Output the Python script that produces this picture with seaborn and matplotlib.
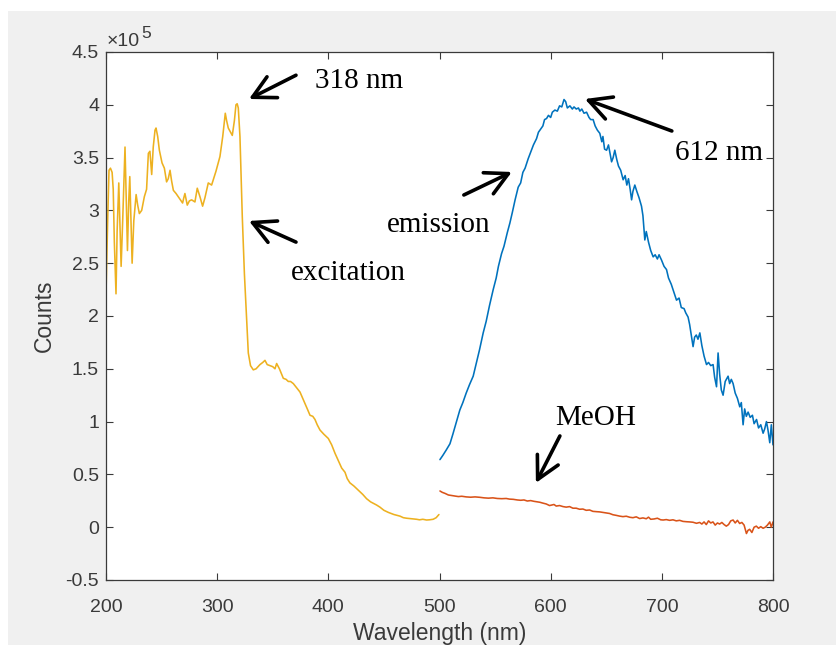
import matplotlib
matplotlib.use("Agg")
import matplotlib.pyplot as plt
from matplotlib.patches import Rectangle
from matplotlib.ticker import FuncFormatter, MultipleLocator
from matplotlib.transforms import offset_copy
import numpy as np
import pandas as pd
import seaborn as sns

# Excitation spectrum (wavelength in nm, counts in units of 1e5)
exc_wl = [200.0, 201.5, 202.7, 204.0, 205.5, 206.5, 207.5, 209.0, 210.0, 211.5,
          212.5, 213.6, 215.0, 217.1, 218.2, 219.3, 220.5, 221.4, 222.5, 223.5,
          225.0, 227.1, 228.5, 230.0, 232.1, 234.5, 236.5, 238.1, 239.5, 241.1,
          242.5, 244.1, 245.0, 246.5, 248.0, 250.4, 252.5, 254.5, 256.0, 257.6,
          259.0, 260.6, 263.0, 265.0, 267.0, 268.9, 270.0, 271.0, 273.1, 275.0,
          277.0, 280.0, 282.1, 284.5, 286.9, 289.0, 292.0, 295.0, 298.9, 302.5,
          305.0, 307.3, 308.5, 310.0, 313.6, 315.5, 316.9, 318.0, 319.0, 320.5,
          322.6, 324.5, 326.5, 328.0, 330.0, 332.5, 335.0, 338.5, 341.0, 343.0,
          345.0, 347.5, 350.0, 352.0, 353.5, 356.0, 359.5, 362.0, 364.0, 366.0,
          368.5, 371.5, 374.5, 377.0, 379.0, 381.5, 383.5, 386.0, 388.0, 390.0,
          392.5, 396.0, 400.0, 403.0, 406.0, 409.0, 412.0, 415.0, 417.0, 419.4,
          423.0, 427.0, 431.0, 434.4, 438.0, 443.4, 446.4, 450.0, 454.0, 459.0,
          464.4, 467.5, 470.4, 475.0, 479.4, 482.0, 485.0, 488.4, 491.0, 494.3,
          497.0, 499.5]
exc_val = [2.21, 2.90, 3.38, 3.40, 3.36, 3.20, 2.70, 2.21, 2.80, 3.26,
           2.90, 2.47, 2.90, 3.60, 3.10, 2.62, 3.10, 3.32, 2.90, 2.50,
           2.90, 3.15, 3.05, 2.97, 3.00, 3.13, 3.20, 3.54, 3.56, 3.34,
           3.60, 3.76, 3.78, 3.70, 3.57, 3.45, 3.40, 3.27, 3.30, 3.38,
           3.28, 3.19, 3.16, 3.13, 3.10, 3.07, 3.12, 3.16, 3.05, 3.09,
           3.10, 3.08, 3.21, 3.13, 3.04, 3.12, 3.26, 3.24, 3.37, 3.51,
           3.70, 3.92, 3.85, 3.78, 3.71, 3.85, 4.00, 4.01, 3.97, 3.70,
           2.94, 2.40, 1.96, 1.65, 1.53, 1.49, 1.50, 1.54, 1.56, 1.58,
           1.54, 1.53, 1.52, 1.50, 1.55, 1.50, 1.41, 1.40, 1.38, 1.38,
           1.36, 1.32, 1.28, 1.22, 1.17, 1.11, 1.06, 1.05, 1.02, 0.97,
           0.92, 0.88, 0.84, 0.78, 0.70, 0.63, 0.56, 0.52, 0.46, 0.42,
           0.39, 0.35, 0.31, 0.27, 0.24, 0.21, 0.19, 0.16, 0.14, 0.12,
           0.105, 0.09, 0.085, 0.08, 0.075, 0.07, 0.075, 0.068, 0.07, 0.075,
           0.09, 0.12]

# Emission spectrum
emi_wl = [500.4, 503.0, 506.0, 509.4, 512.0, 515.0, 518.3, 521.0, 524.0, 527.0,
          530.3, 533.0, 536.0, 539.3, 542.0, 545.0, 548.3, 551.0, 553.0, 555.8,
          558.0, 561.0, 563.3, 565.5, 568.0, 570.8, 573.0, 575.0, 577.0, 579.8,
          582.0, 584.5, 587.3, 589.0, 591.0, 593.0, 594.5, 596.3, 598.0, 600.0,
          601.5, 603.8, 606.0, 608.0, 610.0, 612.0, 613.5, 615.0, 617.3, 619.5,
          621.0, 623.0, 625.0, 626.3, 628.0, 630.0, 632.3, 634.5, 636.0, 638.2,
          640.0, 642.0, 644.2, 646.0, 647.0, 648.5, 650.3, 652.0, 654.8, 656.2,
          657.7, 659.5, 661.0, 663.0, 665.2, 667.0, 668.5, 670.0, 671.5, 672.8,
          674.0, 675.7, 677.5, 679.5, 681.7, 683.0, 684.7, 686.0, 688.0, 690.0,
          692.2, 694.0, 696.0, 697.5, 699.7, 702.0, 704.2, 706.0, 708.5, 711.0,
          713.2, 715.5, 717.5, 720.0, 721.5, 723.6, 725.0, 726.5, 728.1, 729.5,
          731.0, 732.5, 734.2, 736.0, 738.0, 740.2, 742.0, 744.0, 746.1, 747.5,
          749.2, 750.6, 752.0, 753.5, 755.1, 757.0, 759.6, 761.0, 762.5, 764.1,
          766.0, 768.0, 770.1, 771.5, 773.1, 774.5, 776.0, 777.6, 779.5, 781.5,
          783.0, 785.2, 787.0, 789.0, 791.1, 792.5, 794.1, 795.5, 797.1, 798.5,
          800.0]
emi_val = [0.64, 0.68, 0.73, 0.79, 0.88, 0.99, 1.11, 1.18, 1.27, 1.35,
           1.43, 1.55, 1.68, 1.84, 1.95, 2.10, 2.25, 2.36, 2.47, 2.59,
           2.66, 2.79, 2.88, 2.98, 3.10, 3.22, 3.26, 3.36, 3.40, 3.49,
           3.55, 3.62, 3.68, 3.74, 3.77, 3.80, 3.86, 3.87, 3.90, 3.88,
           3.93, 3.95, 3.94, 3.99, 3.98, 4.05, 4.03, 3.97, 3.99, 3.96,
           3.98, 3.96, 3.97, 3.94, 3.96, 3.92, 3.93, 3.88, 3.86, 3.86,
           3.80, 3.76, 3.73, 3.65, 3.70, 3.58, 3.57, 3.62, 3.46, 3.50,
           3.57, 3.48, 3.42, 3.38, 3.29, 3.33, 3.24, 3.30, 3.20, 3.10,
           3.18, 3.24, 3.18, 3.12, 3.04, 2.95, 2.72, 2.80, 2.70, 2.62,
           2.56, 2.58, 2.54, 2.58, 2.53, 2.47, 2.44, 2.36, 2.30, 2.22,
           2.15, 2.17, 2.08, 2.07, 2.03, 1.99, 1.92, 1.82, 1.71, 1.80,
           1.82, 1.78, 1.84, 1.72, 1.62, 1.54, 1.56, 1.53, 1.54, 1.42,
           1.33, 1.65, 1.45, 1.30, 1.25, 1.38, 1.43, 1.36, 1.40, 1.36,
           1.27, 1.22, 1.14, 1.18, 0.97, 1.12, 1.05, 1.09, 1.04, 1.06,
           0.98, 1.02, 0.94, 0.97, 0.89, 0.93, 1.00, 0.92, 0.80, 0.97,
           0.78]

# Methanol blank
meoh_wl = [500.4, 502.5, 505.0, 508.0, 511.0, 513.9, 517.0, 520.0, 524.0, 528.0,
           532.0, 536.3, 540.0, 544.0, 548.0, 552.0, 556.0, 560.0, 563.0, 566.3,
           570.0, 573.0, 576.0, 579.0, 582.0, 585.0, 588.0, 590.3, 593.0, 596.0,
           599.0, 601.0, 603.0, 605.0, 608.0, 611.2, 614.0, 617.0, 620.0, 623.0,
           626.0, 629.0, 632.0, 635.0, 638.0, 641.3, 644.0, 647.0, 650.0, 653.0,
           656.0, 659.0, 662.0, 665.0, 668.0, 671.2, 674.0, 677.0, 680.0, 683.0,
           686.0, 688.0, 690.0, 693.0, 696.0, 699.0, 701.2, 704.0, 707.0, 710.0,
           713.0, 716.0, 719.0, 722.0, 725.0, 728.0, 731.2, 734.0, 736.0, 738.0,
           740.0, 742.0, 744.0, 746.0, 748.0, 750.0, 752.0, 754.0, 756.0, 758.0,
           760.0, 762.0, 764.1, 766.0, 768.0, 770.0, 772.0, 774.0, 776.1, 777.5,
           779.0, 781.0, 783.0, 785.0, 787.0, 789.0, 791.1, 793.0, 795.0, 797.1,
           798.5, 800.0]
meoh_val = [0.343, 0.33, 0.32, 0.305, 0.30, 0.295, 0.29, 0.293, 0.287, 0.284,
            0.287, 0.283, 0.278, 0.275, 0.278, 0.272, 0.27, 0.272, 0.266, 0.264,
            0.258, 0.255, 0.258, 0.248, 0.252, 0.245, 0.24, 0.236, 0.228, 0.22,
            0.205, 0.21, 0.215, 0.20, 0.205, 0.195, 0.19, 0.195, 0.18, 0.18,
            0.17, 0.172, 0.16, 0.163, 0.15, 0.147, 0.145, 0.14, 0.135, 0.13,
            0.118, 0.112, 0.105, 0.10, 0.104, 0.094, 0.09, 0.098, 0.082, 0.088,
            0.08, 0.095, 0.075, 0.078, 0.085, 0.07, 0.068, 0.072, 0.065, 0.07,
            0.06, 0.065, 0.055, 0.052, 0.05, 0.047, 0.037, 0.045, 0.03, 0.05,
            0.025, 0.06, 0.04, 0.05, 0.02, 0.04, 0.03, 0.045, 0.025, 0.01,
            0.025, 0.06, 0.068, 0.04, 0.065, 0.035, 0.045, 0.02, -0.06, -0.03,
            -0.02, -0.05, 0.0, 0.01, -0.01, 0.005, -0.01, 0.0, 0.02, 0.05,
            0.0, 0.05]

x_ticks = [200, 300, 400, 500, 600, 700, 800]

series_colors = {"excitation": "#EDB120", "emission": "#0072BD", "MeOH": "#D95319"}

df = pd.concat([
    pd.DataFrame({"wavelength": exc_wl, "counts": exc_val, "series": "excitation"}),
    pd.DataFrame({"wavelength": emi_wl, "counts": emi_val, "series": "emission"}),
    pd.DataFrame({"wavelength": meoh_wl, "counts": meoh_val, "series": "MeOH"}),
], ignore_index=True)

sns.set_theme(style="ticks")
plt.rcParams["font.family"] = ["Liberation Sans", "DejaVu Sans"]
plt.rcParams["axes.unicode_minus"] = False

fig = plt.figure(figsize=(8.36, 6.46), dpi=100, facecolor="white")
fig.patches.append(Rectangle((8 / 836, 1 / 646), 828 / 836, 634 / 646,
                             transform=fig.transFigure, facecolor="#f0f0f0",
                             edgecolor="none", zorder=-10))
ax = fig.add_axes([106 / 836, 1 - 580 / 646, 667 / 836, 528 / 646])
ax.set_facecolor("white")

sns.lineplot(data=df, x="wavelength", y="counts", hue="series",
             palette=series_colors, estimator=None, sort=False,
             linewidth=1.15, legend=False, ax=ax)

ax.set_xlim(200, 800)
ax.set_ylim(-0.5, 4.5)
ax.set_xticks(x_ticks)
ax.yaxis.set_major_locator(MultipleLocator(0.5))
ax.yaxis.set_major_formatter(FuncFormatter(lambda v, p: f"{v:g}"))

axis_col = "#3a3a3a"
for sp in ax.spines.values():
    sp.set_color(axis_col)
    sp.set_linewidth(0.9)
    sp.set_visible(True)
ax.tick_params(direction="in", length=5, width=0.8, top=True, right=True,
               labelsize=14, color=axis_col, labelcolor=axis_col)
ax.tick_params(axis="x", pad=14)
ax.tick_params(axis="y", pad=5)

ax.set_xlabel("Wavelength (nm)", fontsize=16.5, color=axis_col, labelpad=4)
ax.set_ylabel("Counts", fontsize=16.5, color=axis_col, labelpad=7)

# Exponent marker for the y axis: "×10" with a raised "5"
ax.text(0.0, 1.0, "\u00d710", transform=offset_copy(ax.transAxes, fig=fig, x=1, y=6, units="dots"),
        fontsize=14, color=axis_col, ha="left", va="baseline")
ax.text(0.0, 1.0, "5", transform=offset_copy(ax.transAxes, fig=fig, x=35, y=14, units="dots"),
        fontsize=12.5, color=axis_col, ha="left", va="baseline")

# Annotations
serif = ["Liberation Serif", "DejaVu Serif"]
arrow_kw = dict(arrowstyle="->,head_length=0.8,head_width=0.42", lw=2.6,
                color="black", shrinkA=0, shrinkB=0, mutation_scale=20)

ax.annotate("", xy=(328.6, 4.055), xytext=(370.9, 4.28), arrowprops=arrow_kw)
ax.text(388, 4.159, "318 nm", fontsize=21, family=serif, color="black",
        ha="left", va="baseline")

ax.annotate("", xy=(328.6, 2.90), xytext=(370.9, 2.70), arrowprops=arrow_kw)
ax.text(366.4, 2.341, "excitation", fontsize=21, family=serif, color="black",
        ha="left", va="baseline")

ax.annotate("", xy=(565.1, 3.364), xytext=(521.9, 3.146), arrowprops=arrow_kw)
ax.text(546.2, 2.798, "emission", fontsize=21, family=serif, color="black",
        ha="right", va="baseline")

ax.annotate("", xy=(630.8, 4.055), xytext=(709.0, 3.752), arrowprops=arrow_kw)
ax.text(711.7, 3.477, "612 nm", fontsize=21, family=serif, color="black",
        ha="left", va="baseline")

ax.annotate("", xy=(586.7, 0.419), xytext=(608.3, 0.864), arrowprops=arrow_kw)
ax.text(603.8, 0.968, "MeOH", fontsize=21, family=serif, color="black",
        ha="left", va="baseline")

fig.savefig("out.png", dpi=100, facecolor=fig.get_facecolor())
